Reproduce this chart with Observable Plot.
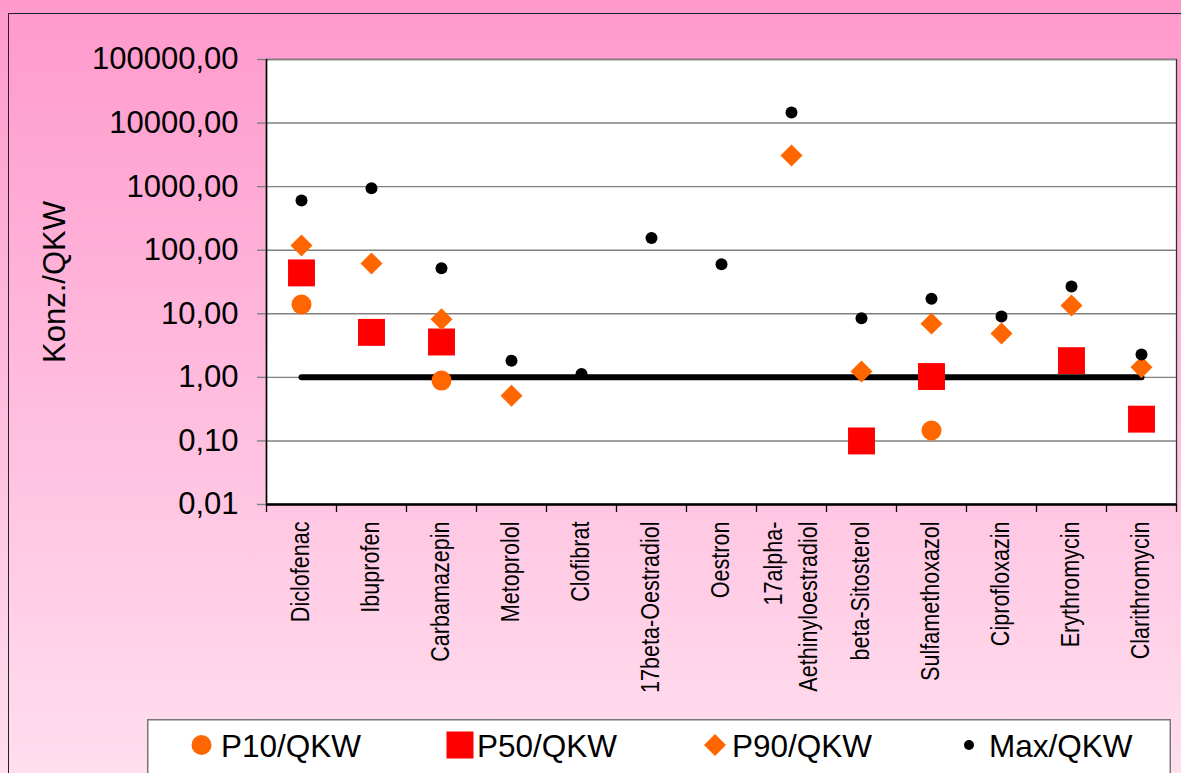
<!DOCTYPE html>
<html>
<head>
<meta charset="utf-8">
<script src="https://cdn.jsdelivr.net/npm/d3@7"></script>
<script src="https://cdn.jsdelivr.net/npm/@observablehq/plot@0.6"></script>
<style>
  html, body { margin: 0; padding: 0; }
  body { width: 1181px; height: 773px; overflow: hidden; font-family: "Liberation Sans", Arial, sans-serif; }
  #wrap { position: relative; width: 1181px; height: 773px; background: linear-gradient(#FF99CC 0%, #FFDEEE 100%); }
  #border { position: absolute; left: 8px; top: 13px; width: 1200px; height: 800px; border-left: 1.5px solid #222; border-top: 1.5px solid #222; box-sizing: border-box; }
  #chart { position: absolute; left: 0; top: 0; }
  #legend { position: absolute; left: 147px; top: 719px; }
</style>
</head>
<body>
<div id="wrap">
  <div id="border"></div>
  <div id="chart"></div>
  <div id="legend"></div>
</div>
<script>
const categories = ["Diclofenac", "Ibuprofen", "Carbamazepin", "Metoprolol", "Clofibrat", "17beta-Oestradiol", "Oestron", "17alpha-\nAethinyloestradiol", "beta-Sitosterol", "Sulfamethoxazol", "Ciprofloxazin", "Erythromycin", "Clarithromycin"];
const p10 = [14, null, 0.89, null, null, null, null, null, null, 0.146, null, null, null];
const p50 = [44, 5.1, 3.6, null, null, null, null, null, 0.10, 1.03, null, 1.83, 0.22];
const p90 = [119, 62, 8.2, 0.515, null, null, null, 3100, 1.24, 7.0, 4.9, 13.5, 1.44];
const maxv = [605, 946, 52, 1.83, 1.13, 155, 60, 14700, 8.5, 17.3, 9.1, 26.8, 2.28];
const qkw = [1, 1, 1, 1, 1, 1, 1, 1, 1, 1, 1, 1, 1];
const yTicks = [0.01, 0.1, 1, 10, 100, 1000, 10000, 100000];
const seriesNames = ["P10/QKW", "P50/QKW", "P90/QKW", "Max/QKW"];

const rows = categories.map((c, i) => ({i, c, p10: p10[i], p50: p50[i], p90: p90[i], max: maxv[i], qkw: qkw[i]}));
const boundaries = [...categories.map((c, i) => i - 0.5), categories.length - 0.5];
const fmt = d => d.toFixed(2).replace(".", ",");

const ORANGE = "#FF6600", RED = "#FF0000";

const chart = Plot.plot({
  width: 1181,
  height: 773,
  marginLeft: 266,
  marginRight: 5,
  marginTop: 59,
  marginBottom: 269,
  style: {background: "transparent", fontFamily: "Liberation Sans, Arial, sans-serif", color: "black"},
  x: {type: "linear", domain: [-0.5, categories.length - 0.5]},
  y: {type: "log", domain: [0.01, 100000]},
  marks: [
    Plot.frame({fill: "white", stroke: "#333", strokeWidth: 1.3}),
    Plot.gridY(yTicks, {stroke: "#808080", strokeOpacity: 1, strokeWidth: 1.4}),
    Plot.axisY({ticks: yTicks, tickFormat: fmt, tickSize: 9, tickPadding: 19, fontSize: 31, stroke: "#808080", strokeWidth: 1.4, label: null}),
    Plot.axisX({ticks: boundaries, tickFormat: () => "", tickSize: 8, stroke: "black", strokeWidth: 1.3, label: null}),
    Plot.ruleX([-0.5], {stroke: "black", strokeWidth: 1.5}),
    Plot.ruleY([0.01], {stroke: "black", strokeWidth: 2.5}),
    Plot.text(["Konz./QKW"], {frameAnchor: "left", dx: -211, rotate: -90, textAnchor: "middle", lineAnchor: "middle", fontSize: 31, fill: "black"}),
    Plot.text(rows, {x: "i", frameAnchor: "bottom", text: "c", rotate: -90, textAnchor: "end", lineAnchor: "middle", dx: -3, dy: 17, fontSize: 26, lineHeight: 1.32, fill: "black"}),
    Plot.line(rows, {x: "i", y: "qkw", stroke: "black", strokeWidth: 6, strokeLinecap: "round"}),
    Plot.dot(rows, {x: "i", y: "p10", r: 10, fill: ORANGE, symbol: "circle"}),
    Plot.dot(rows, {x: "i", y: "p50", r: 15.2, fill: RED, symbol: "square"}),
    Plot.dot(rows, {x: "i", y: "p90", r: 9.9, fill: ORANGE, symbol: "diamond2"}),
    Plot.dot(rows, {x: "i", y: "max", r: 6, fill: "black", symbol: "circle"})
  ]
});
// condense the category labels along their reading direction (narrow font look)
const flatNames = new Set(categories.map(c => c.replace(/\n/g, "")));
d3.select(chart).selectAll("text").each(function () {
  if (!flatNames.has(this.textContent)) return;
  const t = this.getAttribute("transform") || "";
  this.setAttribute("transform", t + " scale(0.83,1)");
});
document.getElementById("chart").appendChild(chart);

// Legend
const lw = 1024, lh = 60;
const legend = d3.create("svg").attr("width", lw).attr("height", lh).style("display", "block").style("overflow", "visible");
legend.append("rect").attr("x", 0.75).attr("y", 0.75).attr("width", lw - 1.5).attr("height", lh).attr("fill", "white").attr("stroke", "#777").attr("stroke-width", 1.5);
const items = [
  {name: seriesNames[0], cx: 54.5, tx: 74, sym: d3.symbolCircle, size: Math.PI * 10 * 10, fill: ORANGE},
  {name: seriesNames[1], cx: 313, tx: 330, sym: d3.symbolSquare, size: 27 * 27, fill: RED},
  {name: seriesNames[2], cx: 568, tx: 585, sym: d3.symbolDiamond2, size: Math.PI * 9.9 * 9.9, fill: ORANGE},
  {name: seriesNames[3], cx: 822, tx: 842, sym: d3.symbolCircle, size: Math.PI * 5 * 5, fill: "black"}
];
for (const it of items) {
  legend.append("path").attr("transform", `translate(${it.cx},26)`).attr("d", d3.symbol(it.sym, it.size)()).attr("fill", it.fill);
  legend.append("text").attr("x", it.tx).attr("y", 37.5).attr("font-size", 31.5).attr("font-family", "Liberation Sans, Arial, sans-serif").attr("fill", "black").text(it.name);
}
document.getElementById("legend").appendChild(legend.node());
</script>
</body>
</html>
